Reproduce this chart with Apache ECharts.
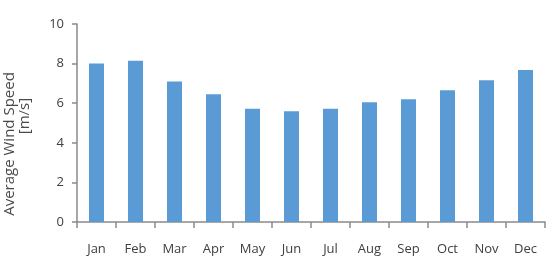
<!DOCTYPE html>
<html>
<head>
<meta charset="utf-8">
<script src="https://cdn.jsdelivr.net/npm/echarts@6/dist/echarts.min.js"></script>
<style>html,body{margin:0;padding:0;background:#fff}#c{width:550px;height:262px}</style>
</head>
<body>
<div id="c"></div>
<script>
const categories = ['Jan','Feb','Mar','Apr','May','Jun','Jul','Aug','Sep','Oct','Nov','Dec'];
const windSpeed = [8.0, 8.15, 7.1, 6.45, 5.72, 5.59, 5.72, 6.05, 6.2, 6.65, 7.16, 7.68];
const titleLine1 = 'Average Wind Speed';
const titleLine2 = '[m/s]';

const FONT = '"Open Sans", "Noto Sans", sans-serif';
const chart = echarts.init(document.getElementById('c'));
chart.setOption({
  animation: false,
  grid: {left: 77, right: 5, top: 24, bottom: 40, containLabel: false},
  xAxis: {
    type: 'category',
    data: categories,
    boundaryGap: true,
    axisLine: {lineStyle: {color: '#8a8a8a', width: 1.5}},
    axisTick: {show: true, length: 6, alignWithLabel: false, lineStyle: {color: '#8a8a8a', width: 1.5}},
    axisLabel: {color: '#404040', fontSize: 13, fontFamily: FONT, margin: 21}
  },
  yAxis: {
    type: 'value',
    min: 0, max: 10, interval: 2,
    axisLine: {show: true, lineStyle: {color: '#8a8a8a', width: 1.5}},
    axisTick: {show: true, length: 5, lineStyle: {color: '#8a8a8a', width: 1.5}},
    splitLine: {show: false},
    axisLabel: {color: '#404040', fontSize: 13, fontFamily: FONT, margin: 13}
  },
  series: [{
    type: 'bar',
    data: windSpeed,
    barWidth: 15,
    itemStyle: {color: '#5b9bd5'}
  }],
  graphic: [
    {type: 'text', x: 10, y: 144, rotation: Math.PI / 2,
     style: {text: titleLine1, fill: '#4a4a4a', font: '15px ' + FONT, textAlign: 'center', textVerticalAlign: 'middle'}},
    {type: 'text', x: 25, y: 116, rotation: Math.PI / 2,
     style: {text: titleLine2, fill: '#4a4a4a', font: '15px ' + FONT, textAlign: 'center', textVerticalAlign: 'middle'}}
  ]
});
</script>
</body>
</html>
